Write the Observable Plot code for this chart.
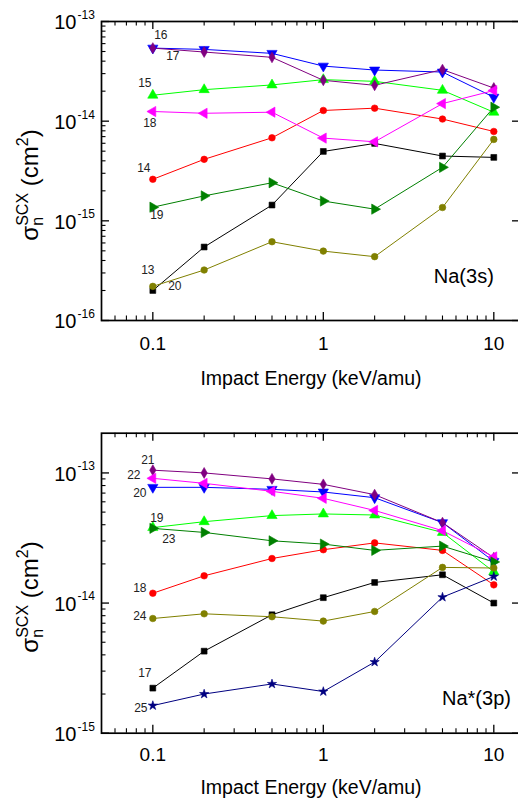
<!DOCTYPE html>
<html><head><meta charset="utf-8">
<script src="https://cdn.jsdelivr.net/npm/d3@7"></script>
<script src="https://cdn.jsdelivr.net/npm/@observablehq/plot@0.6"></script>
<style>
body{margin:0;background:#fff;overflow:hidden;}
#wrap{width:518px;height:803px;overflow:hidden;position:relative;}
#wrap svg{display:block;max-width:none !important;}
</style></head><body><div id="wrap"></div>
<script>
// ---------- data ----------
const energies = [0.1, 0.2, 0.5, 1, 2, 5, 10];

// Na(3s) panel, n = 13..20
const na3s_n13 = [2.0e-16, 5.46e-16, 1.44e-15, 4.97e-15, 5.98e-15, 4.47e-15, 4.33e-15];
const na3s_n14 = [2.61e-15, 4.14e-15, 6.81e-15, 1.28e-14, 1.35e-14, 1.05e-14, 7.88e-15];
const na3s_n15 = [1.82e-14, 2.07e-14, 2.31e-14, 2.61e-14, 2.51e-14, 2.04e-14, 1.23e-14];
const na3s_n16 = [5.41e-14, 5.25e-14, 4.79e-14, 3.57e-14, 3.26e-14, 3.11e-14, 1.74e-14];
const na3s_n17 = [5.41e-14, 4.94e-14, 4.37e-14, 2.57e-14, 2.29e-14, 3.29e-14, 2.15e-14];
const na3s_n18 = [1.25e-14, 1.20e-14, 1.23e-14, 6.76e-15, 6.21e-15, 1.50e-14, 2.03e-14];
const na3s_n19 = [1.37e-15, 1.78e-15, 2.41e-15, 1.58e-15, 1.31e-15, 3.44e-15, 1.38e-14];
const na3s_n20 = [2.2e-16, 3.21e-16, 6.17e-16, 4.97e-16, 4.37e-16, 1.36e-15, 6.56e-15];

// Na*(3p) panel, n = 17..25
const na3p_n17 = [2.22e-15, 4.27e-15, 8.13e-15, 1.10e-14, 1.44e-14, 1.65e-14, 1.0e-14];
const na3p_n18 = [1.19e-14, 1.62e-14, 2.2e-14, 2.57e-14, 2.9e-14, 2.54e-14, 1.38e-14];
const na3p_n19 = [3.8e-14, 4.22e-14, 4.7e-14, 4.84e-14, 4.75e-14, 3.49e-14, 1.74e-14];
const na3p_n20 = [7.75e-14, 7.75e-14, 7.48e-14, 7.14e-14, 6.45e-14, 4.15e-14, 2.09e-14];
const na3p_n21 = [1.05e-13, 1.0e-13, 9.0e-14, 8.17e-14, 6.81e-14, 4.15e-14, 2.23e-14];
const na3p_n22 = [9.09e-14, 8.32e-14, 7.22e-14, 6.38e-14, 5.15e-14, 3.6e-14, 2.26e-14];
const na3p_n23 = [3.75e-14, 3.49e-14, 3.01e-14, 2.84e-14, 2.54e-14, 2.74e-14, 2.07e-14];
const na3p_n24 = [7.61e-15, 8.27e-15, 7.85e-15, 7.27e-15, 8.62e-15, 1.88e-14, 1.86e-14];
const na3p_n25 = [1.63e-15, 2.0e-15, 2.39e-15, 2.09e-15, 3.52e-15, 1.11e-14, 1.6e-14];

// tick labels
const xTicks = [0.1, 1, 10];
const xTickLabels = ["0.1", "1", "10"];
const xMinorTicks = [0.06,0.07,0.08,0.09,0.2,0.3,0.4,0.5,0.6,0.7,0.8,0.9,2,3,4,5,6,7,8,9];
const topYTicks = [1e-16, 1e-15, 1e-14, 1e-13];
const topYExp = ["-16", "-15", "-14", "-13"];
const botYTicks = [1e-15, 1e-14, 1e-13];
const botYExp = ["-15", "-14", "-13"];
const xTitle = "Impact Energy (keV/amu)";
const topPanelName = "Na(3s)";
const botPanelName = "Na*(3p)";

// ---------- styles ----------
const FONT = "'Liberation Sans', Arial, sans-serif";
const STY = {
  black:   {color: "#000000", symbol: "square",   rotate: 0},
  red:     {color: "#ff0000", symbol: "circle",   rotate: 0},
  lime:    {color: "#00ff00", symbol: "triangle", rotate: 0},
  blue:    {color: "#0000ff", symbol: "triangle", rotate: 180},
  purple:  {color: "#800080", symbol: "diamond",  rotate: 0},
  magenta: {color: "#ff00ff", symbol: "triangle", rotate: -90},
  dgreen:  {color: "#008000", symbol: "triangle", rotate: 90},
  olive:   {color: "#808000", symbol: "circle",   rotate: 0},
  navy:    {color: "#000080", symbol: "star",     rotate: 0}
};

const topSeries = [
  {n: "13", v: na3s_n13, s: STY.black,   dx: -5,  dy: -20},
  {n: "14", v: na3s_n14, s: STY.red,     dx: -9,  dy: -11},
  {n: "15", v: na3s_n15, s: STY.lime,    dx: -8,  dy: -12},
  {n: "16", v: na3s_n16, s: STY.blue,    dx: 8,   dy: -13},
  {n: "17", v: na3s_n17, s: STY.purple,  dx: 20,  dy: 8},
  {n: "18", v: na3s_n18, s: STY.magenta, dx: -3,  dy: 12},
  {n: "19", v: na3s_n19, s: STY.dgreen,  dx: 4,   dy: 8},
  {n: "20", v: na3s_n20, s: STY.olive,   dx: 22,  dy: 0}
];
const botSeries = [
  {n: "17", v: na3p_n17, s: STY.black,   dx: -8,  dy: -15},
  {n: "18", v: na3p_n18, s: STY.red,     dx: -13, dy: -5},
  {n: "19", v: na3p_n19, s: STY.lime,    dx: 4,   dy: -9},
  {n: "20", v: na3p_n20, s: STY.blue,    dx: -13, dy: 6},
  {n: "21", v: na3p_n21, s: STY.purple,  dx: -5,  dy: -10},
  {n: "22", v: na3p_n22, s: STY.magenta, dx: -19, dy: -3},
  {n: "23", v: na3p_n23, s: STY.dgreen,  dx: 16,  dy: 11},
  {n: "24", v: na3p_n24, s: STY.olive,   dx: -13, dy: -2},
  {n: "25", v: na3p_n25, s: STY.navy,    dx: -12, dy: 3}
];

function makePanel(cfg) {
  const W = 530, L = 101, R = 10;
  const plotW = W - L - R;
  const plotH = cfg.height - cfg.mt - cfg.mb;
  const marks = [];
  for (const s of cfg.series) {
    const rows = energies.map((e, i) => ({x: e, y: s.v[i]}));
    marks.push(Plot.line(rows, {x: "x", y: "y", stroke: s.s.color, strokeWidth: 1}));
  }
  for (const s of cfg.series) {
    const rows = energies.map((e, i) => ({x: e, y: s.v[i]}));
    const r = s.s.symbol === "star" ? 2.9 : s.s.symbol === "triangle" ? 3.8 : 3.3;
    marks.push(Plot.dot(rows, {x: "x", y: "y", symbol: s.s.symbol, rotate: s.s.rotate, r,
      fill: s.s.color, stroke: s.s.color, strokeWidth: 0.6}));
  }
  for (const s of cfg.series) {
    marks.push(Plot.text([{x: energies[0], y: s.v[0]}], {x: "x", y: "y", text: () => s.n,
      dx: s.dx, dy: s.dy, fontSize: 12, fill: "#222", fontFamily: FONT}));
  }
  marks.push(
    Plot.frame({stroke: "#000", strokeWidth: 1.7}),
    Plot.tickX(xTicks, {x: d => d, insetTop: plotH - 8, stroke: "#000", strokeWidth: 1.3}),
    Plot.tickX(xMinorTicks, {x: d => d, insetTop: plotH - 4.5, stroke: "#000", strokeWidth: 1.1}),
    Plot.tickX(xTicks, {x: d => d, insetBottom: plotH - 8, stroke: "#000", strokeWidth: 1.3}),
    Plot.tickX(xMinorTicks, {x: d => d, insetBottom: plotH - 4.5, stroke: "#000", strokeWidth: 1.1}),
    Plot.tickY(cfg.yTicks, {y: d => d, insetRight: plotW - 8, stroke: "#000", strokeWidth: 1.3}),
    Plot.tickY(cfg.yMinor, {y: d => d, insetRight: plotW - 4.5, stroke: "#000", strokeWidth: 1.1}),
    Plot.tickY(cfg.yTicks, {y: d => d, insetLeft: plotW - 8, stroke: "#000", strokeWidth: 1.3})
  );
  marks.push(
    Plot.text(cfg.yTicks, {y: d => d, frameAnchor: "left", text: () => "10", textAnchor: "end",
      dx: -25, dy: 1.5, fontSize: 20, fill: "#000", fontFamily: FONT}),
    Plot.text(cfg.yTicks, {y: d => d, frameAnchor: "left", text: (d, i) => cfg.yExp[i], textAnchor: "start",
      dx: -24, dy: -6.5, fontSize: 12, fill: "#000", fontFamily: FONT}),
    Plot.text(xTicks, {x: d => d, frameAnchor: "bottom", text: (d, i) => xTickLabels[i], lineAnchor: "top",
      dy: cfg.xLabDy, fontSize: 19, fill: "#000", fontFamily: FONT}),
    Plot.text([xTitle], {frameAnchor: "bottom", text: d => d, lineAnchor: "bottom",
      dy: cfg.xTitleDy, fontSize: 19.5, fill: "#000", fontFamily: FONT}),
    Plot.text([cfg.name], {x: cfg.nameX, y: cfg.nameY, text: d => d, textAnchor: "end", lineAnchor: "bottom",
      fontSize: 20, fill: "#000", fontFamily: FONT})
  );
  const svg = Plot.plot({
    width: W, height: cfg.height,
    marginLeft: L, marginRight: R, marginTop: cfg.mt, marginBottom: cfg.mb,
    x: {type: "log", domain: [0.05, 14.34], axis: null},
    y: {type: "log", domain: cfg.yDomain, axis: null},
    style: {background: "#fff", overflow: "hidden"},
    marks
  });
  svg.style.maxWidth = "none";
  svg.style.width = W + "px";
  svg.style.height = cfg.height + "px";
  // y-axis title with subscript / superscript
  const t = d3.select(svg).append("text")
    .attr("transform", `translate(38,${cfg.titleY}) rotate(-90)`)
    .attr("text-anchor", "middle")
    .attr("font-family", FONT).attr("font-size", 24).attr("fill", "#000");
  t.append("tspan").text("σ");
  t.append("tspan").attr("font-size", 16).attr("dy", 5).text("n");
  t.append("tspan").attr("font-size", 16).attr("dx", -8.9).attr("dy", -15).text("SCX");
  t.append("tspan").attr("dy", 10).text(" (cm");
  t.append("tspan").attr("font-size", 16).attr("dy", -10).text("2");
  t.append("tspan").attr("dy", 10).text(")");
  return svg;
}

const minorOf = (lo, hi) => {
  const out = [];
  for (let e = lo; e < hi; e++) for (let k = 2; k <= 9; k++) out.push(k * Math.pow(10, e));
  return out;
};

const wrap = document.getElementById("wrap");
wrap.appendChild(makePanel({
  height: 400, mt: 21, mb: 80, series: topSeries,
  yDomain: [1e-16, 1e-13], yTicks: topYTicks, yExp: topYExp, yMinor: minorOf(-16, -13),
  xLabDy: 16, xTitleDy: 64, name: topPanelName, nameX: 10, nameY: 2.4e-16, titleY: 185
}));
wrap.appendChild(makePanel({
  height: 403, mt: 32.7, mb: 70.3, series: botSeries,
  yDomain: [1e-15, 2.02e-13], yTicks: botYTicks, yExp: botYExp, yMinor: minorOf(-15, -13),
  xLabDy: 14, xTitleDy: 61, name: botPanelName, nameX: 12.6, nameY: 1.65e-15, titleY: 197
}));
</script></body></html>
